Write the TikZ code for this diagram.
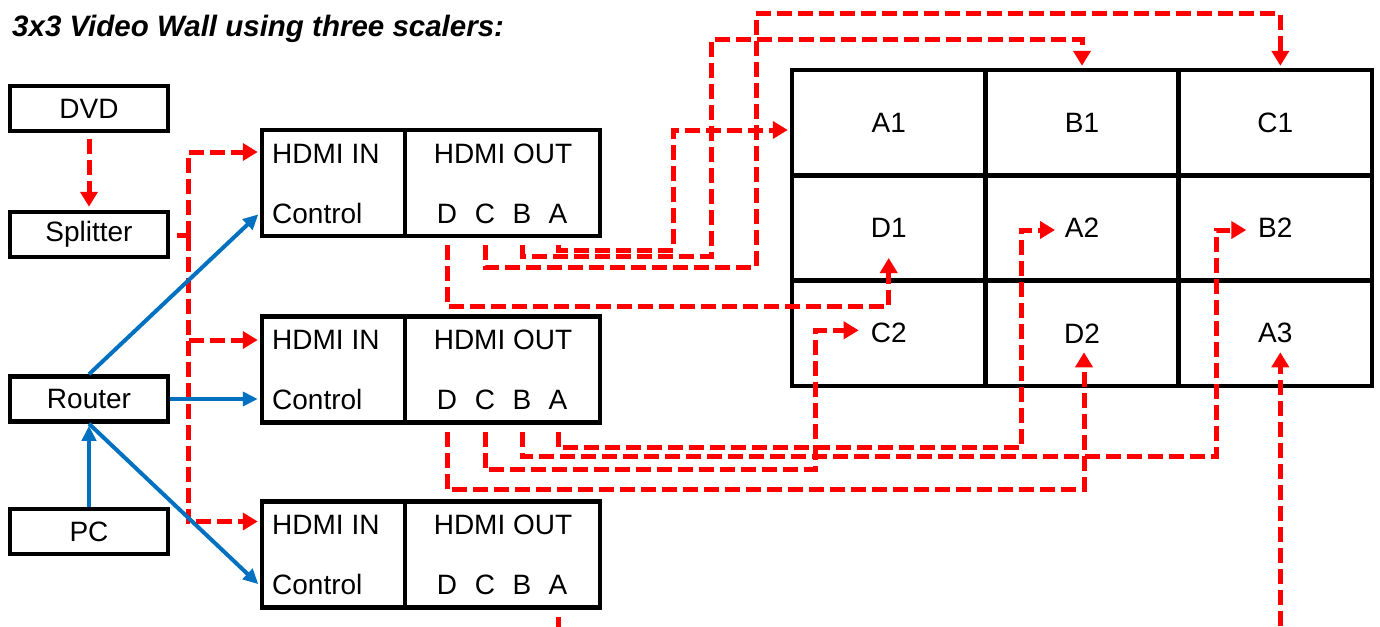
\documentclass[tikz,border=0pt]{standalone}
\usepackage{fontspec}
\setmainfont{Liberation Sans}
\usetikzlibrary{arrows.meta,calc}
\definecolor{sigred}{RGB}{255,0,0}
\definecolor{ctlblue}{RGB}{0,112,192}
\begin{document}
\begin{tikzpicture}[x=1pt,y=-1pt,
  txt/.style={inner sep=0pt, font=\fontsize{28}{32}\selectfont},
  box/.style={draw=black, line width=4.5pt, inner sep=0pt, font=\fontsize{28}{32}\selectfont},
  devbox/.style={box, minimum width=158pt, minimum height=45pt},
  inbox/.style={box, minimum width=143pt, minimum height=106pt},
  outbox/.style={box, minimum width=195pt, minimum height=106pt},
  cell/.style={box, minimum width=193.3pt, minimum height=105.3pt},
  sig/.style={draw=sigred, line width=5pt, dash pattern=on 15pt off 6pt},
  sigarrow/.style={sig, -{Triangle[length=15pt,width=17pt]}},
  ctl/.style={draw=ctlblue, line width=4pt, -{Triangle[length=15pt,width=14pt]}},
]
\fill[white] (0,0) rectangle (1380,626);
\useasboundingbox (0,0) rectangle (1380,626);

% title
\node[anchor=base west, inner sep=0pt, font=\bfseries\itshape\fontsize{29.5}{34}\selectfont] (title) at (12,37) {3x3 Video Wall using three scalers:};

% sources
\node[devbox] (dvd) at (89,108.5) {DVD};
\node[devbox] (splitter) at (89,234.5) {Splitter};
\node[devbox] (router) at (89,399) {Router};
\node[devbox] (pc) at (89,531.5) {PC};

% scalers
\foreach \i/\cy in {1/183,2/369.5,3/554.5}{
  \node[inbox] (s\i in) at (333.5,\cy) {};
  \node[outbox] (s\i out) at (502.5,\cy) {};
  \node[txt, anchor=base west] (s\i hin) at (272,\cy-20) {HDMI IN};
  \node[txt, anchor=base west] (s\i ctl) at (272,\cy+40) {Control};
  \node[txt, anchor=base] (s\i hout) at (503,\cy-20) {HDMI OUT};
  \node[txt, anchor=base] (s\i D) at (447,\cy+40) {D};
  \node[txt, anchor=base] (s\i C) at (485,\cy+40) {C};
  \node[txt, anchor=base] (s\i B) at (522,\cy+40) {B};
  \node[txt, anchor=base] (s\i A) at (558,\cy+40) {A};
  \foreach \p in {A,B,C,D}{
    \coordinate (s\i\p s) at ($(s\i\p |- s\i out.south)+(0,7)$);
  }
}

% video wall
\node[cell] (A1) at (888.7,122.7) {A1};
\node[cell] (B1) at (1082,122.7) {B1};
\node[cell] (C1) at (1275.3,122.7) {C1};
\node[cell] (D1) at (888.7,228) {D1};
\node[cell] (A2) at (1082,228) {A2};
\node[cell] (B2) at (1275.3,228) {B2};
\node[cell] (C2) at (888.7,333.3) {C2};
\node[cell] (D2) at (1082,333.3) {D2};
\node[cell] (A3) at (1275.3,333.3) {A3};

% DVD -> splitter
\draw[sigarrow] ($(dvd.south)+(0,6)$) -- ($(splitter.north)+(0,-3)$);

% splitter -> scalers
\coordinate (sj) at (188,235.5);
\draw[sig] ($(splitter.east)+(7,1)$) -- (sj);
\draw[sigarrow, shorten >=2pt] (sj) |- ($(s1in.west)+(0,-31)$);
\draw[sigarrow, shorten >=2pt] (sj) |- ($(s2in.west)+(0,-29.5)$);
\draw[sigarrow, shorten >=2pt] (sj) |- ($(s3in.west)+(0,-33)$);

% control
\draw[ctl, shorten >=2pt] (router.north) -- ($(s1in.west)+(0,30)$);
\draw[ctl, shorten >=2pt] (router.east) -- (s2in.west |- router.east);
\draw[ctl, shorten >=2pt] (router.south) -- ($(s3in.west)+(0,31)$);
\draw[ctl, shorten >=2pt] (pc.north) -- (router.south);

% scaler 1 outputs
\draw[sigarrow, shorten >=2pt] (s1As) -- ++(0,5) -| (673,130) -- ($(A1.west)+(0,7.3)$);
\draw[sigarrow, shorten >=2pt] (s1Bs) |- (711,256) -- (711,40) -| (B1.north);
\draw[sigarrow, shorten >=2pt] (s1Cs) |- (756,267) -- (756,14) -| ($(C1.north)+(5,0)$);
\draw[sigarrow] (s1Ds) -- ++(0,61) -| ($(D1.center)+(0,30)$);

% scaler 2 outputs
\draw[sigarrow] (s2As) -- ++(0,16) -| ($(A2.center)+(-61,2)$) -- ($(A2.center)+(-27,2)$);
\draw[sigarrow] (s2Bs) -- ++(0,25) -| ($(B2.center)+(-59,2)$) -- ($(B2.center)+(-29,2)$);
\draw[sigarrow] (s2Cs) -- ++(0,38) -| ($(C2.center)+(-73,-3)$) -- ($(C2.center)+(-30,-3)$);
\draw[sigarrow] (s2Ds) -- ++(0,58) -| ($(D2.center)+(2,19)$);

% scaler 3 output and A3 feed
\coordinate (s3end) at ($(s3As)+(0,14)$);
\draw[sig] (s3As) -- (s3end);
\coordinate (a3src) at ($(A3.center)+(5,293)$);
\draw[sigarrow] (a3src) -- ($(A3.center)+(5,19)$);
\end{tikzpicture}
\end{document}
